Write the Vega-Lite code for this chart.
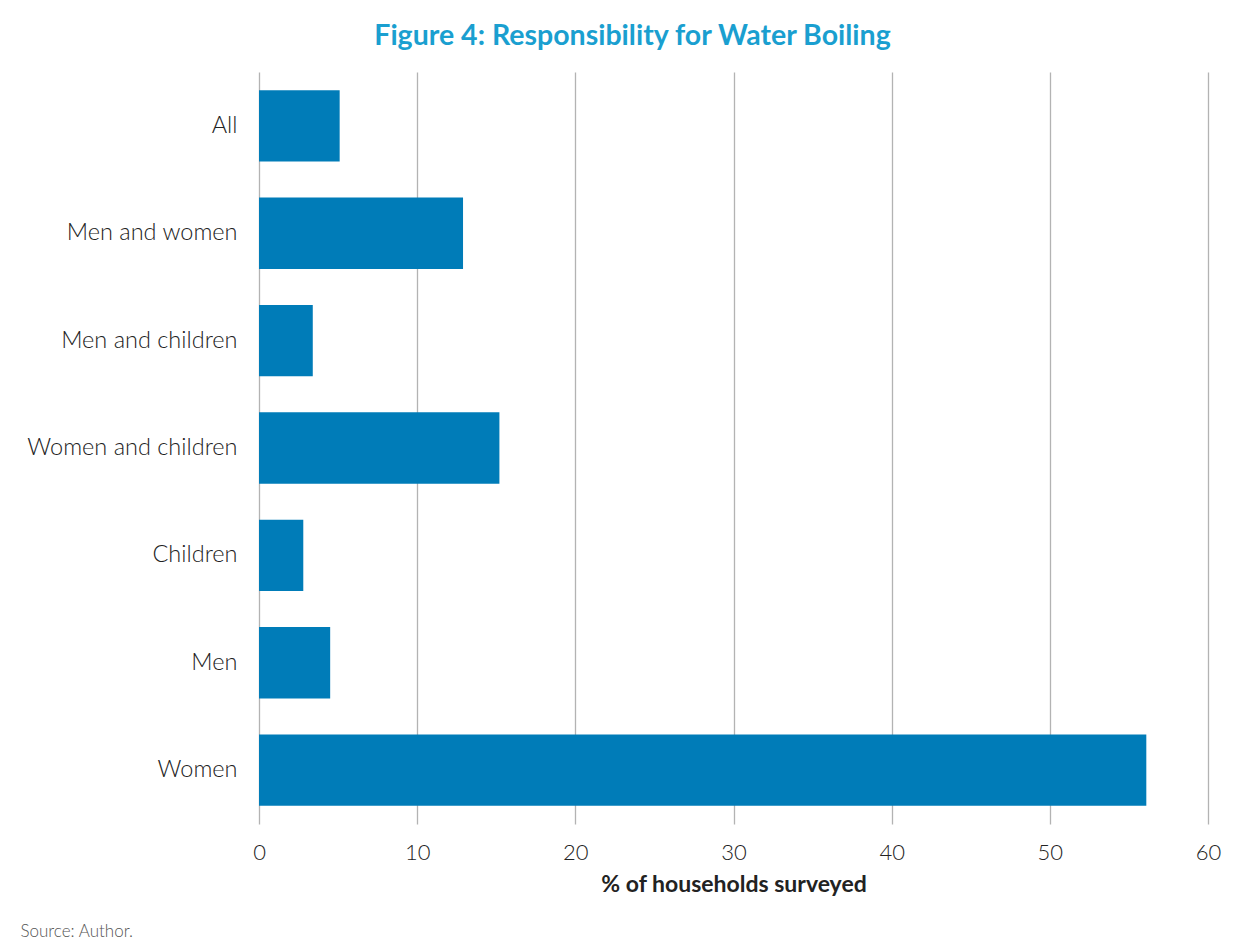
{
  "$schema": "https://vega.github.io/schema/vega-lite/v6.json",
  "width": 949,
  "height": 752,
  "autosize": {"type": "none"},
  "padding": {"left": 259, "top": 72, "right": 44, "bottom": 119},
  "background": "white",
  "title": {
    "text": "Figure 4: Responsibility for Water Boiling",
    "anchor": "middle",
    "frame": "group",
    "dx": -101,
    "offset": 22,
    "font": "Lato",
    "fontSize": 28.5,
    "fontWeight": "bold",
    "color": "#1a9fd0"
  },
  "data": {
    "values": [
      {"group": "All", "pct": 5.1},
      {"group": "Men and women", "pct": 12.9},
      {"group": "Men and children", "pct": 3.4},
      {"group": "Women and children", "pct": 15.2},
      {"group": "Children", "pct": 2.8},
      {"group": "Men", "pct": 4.5},
      {"group": "Women", "pct": 56.1}
    ]
  },
  "mark": {"type": "bar", "color": "#007cb8"},
  "encoding": {
    "y": {
      "field": "group",
      "type": "nominal",
      "sort": null,
      "scale": {"paddingInner": 0.336, "paddingOuter": 0.17},
      "axis": {
        "title": "Source: Author.",
        "titleAngle": 0,
        "titleX": -239,
        "titleY": 864,
        "titleAlign": "left",
        "titleBaseline": "alphabetic",
        "titleFont": "Lato",
        "titleFontSize": 17,
        "titleFontWeight": 300,
        "titleColor": "#555555",
        "domain": false,
        "ticks": false,
        "labelFont": "Lato",
        "labelFontSize": 23.5,
        "labelFontWeight": 300,
        "labelColor": "#222222",
        "labelPadding": 22,
        "labelLimit": 400
      }
    },
    "x": {
      "field": "pct",
      "type": "quantitative",
      "scale": {"domain": [0, 60], "nice": false},
      "axis": {
        "title": "% of households surveyed",
        "values": [0, 10, 20, 30, 40, 50, 60],
        "grid": true,
        "gridColor": "#b3b3b3",
        "gridWidth": 1.3,
        "domain": false,
        "ticks": false,
        "labelFlush": false,
        "labelFont": "Lato",
        "labelFontSize": 22,
        "labelFontWeight": 300,
        "labelColor": "#222222",
        "labelPadding": 18,
        "titleFont": "Lato",
        "titleFontSize": 23,
        "titleFontWeight": "bold",
        "titleColor": "#222222",
        "titlePadding": 10
      }
    }
  },
  "config": {
    "view": {"stroke": null},
    "axis": {"gridOpacity": 1}
  }
}
